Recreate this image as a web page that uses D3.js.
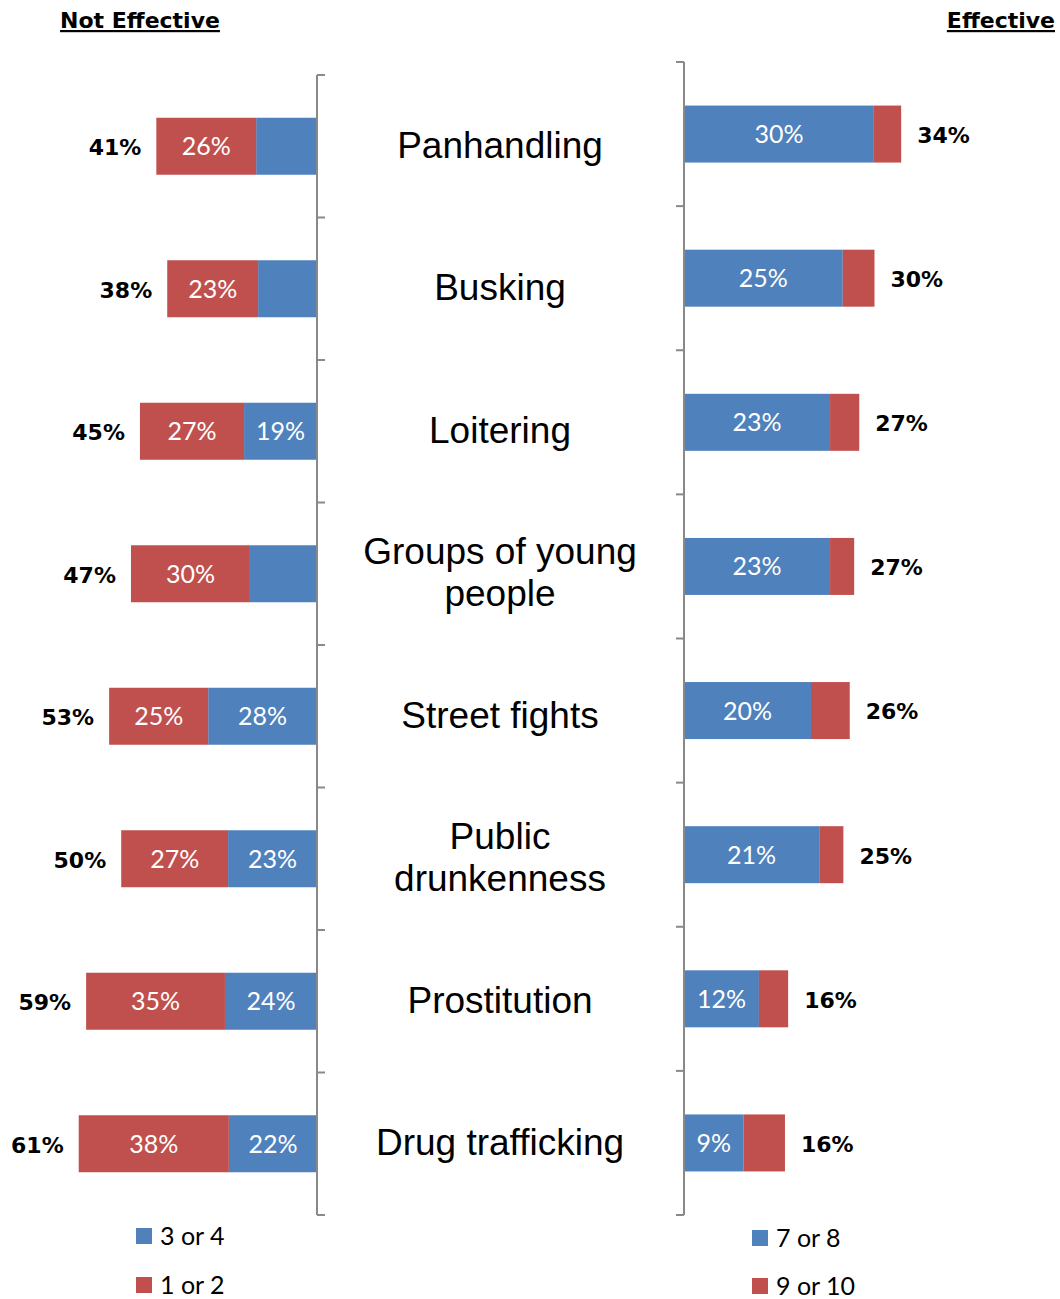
<!DOCTYPE html>
<html><head><meta charset="utf-8">
<script src="https://cdn.jsdelivr.net/npm/d3@7"></script>
<style>body{margin:0;background:#fff}svg{display:block}</style>
</head><body>
<svg id="c" width="1060" height="1299"></svg>
<script>
const categories = [["Panhandling"],["Busking"],["Loitering"],["Groups of young","people"],["Street fights"],["Public","drunkenness"],["Prostitution"],["Drug trafficking"]];
// Not effective
const score34 = [15.6,15.1,18.7,17.2,27.9,22.8,23.6,22.6];
const score34Labels = ["","","19%","","28%","23%","24%","22%"];
const score12 = [25.6,23.3,26.7,30.5,25.4,27.4,35.6,38.5];
const score12Labels = ["26%","23%","27%","30%","25%","27%","35%","38%"];
const notEffTotals = ["41%","38%","45%","47%","53%","50%","59%","61%"];
// Effective
const score78 = [29.9,25.0,23.0,23.0,20.0,21.3,11.8,9.4];
const score78Labels = ["30%","25%","23%","23%","20%","21%","12%","9%"];
const score910 = [4.3,5.0,4.6,3.8,6.1,3.8,4.6,6.5];
const effTotals = ["34%","30%","27%","27%","26%","25%","16%","16%"];

const BLUE="#4f81bd", RED="#c0504d", AXIS="#898989";
const svg = d3.select("#c");
const names = categories.map(c=>c.join(" "));

const xL = d3.scaleLinear().domain([0,70]).range([317,317-273]);
const xR = d3.scaleLinear().domain([0,50]).range([684,684+317.5]);
const yLb = d3.scaleBand().domain(names).range([75,1215]);
const yRb = d3.scaleBand().domain(names).range([62,1215]);

function drawAxis(x, y0, y1, band, dir){
  const g = svg.append("g");
  g.append("line").attr("x1",x).attr("x2",x).attr("y1",y0).attr("y2",y1).attr("stroke",AXIS).attr("stroke-width",2);
  const ticks = names.map(n=>band(n)).concat([y1]);
  g.selectAll("line.t").data(ticks).join("line").attr("class","t")
    .attr("x1",x).attr("x2",x+dir*8).attr("y1",d=>d).attr("y2",d=>d).attr("stroke",AXIS).attr("stroke-width",2);
}

const bh = 57;
const LBL = {ff:"Lato, sans-serif", fs:25};
const TOT = {ff:"DejaVu Sans, sans-serif", fs:22};
// left bars
const gl = svg.append("g");
names.forEach((n,i)=>{
  const cy = yLb(n)+yLb.bandwidth()/2;
  const y = cy-bh/2;
  const bEnd = xL(score34[i]);
  const rEnd = xL(score34[i]+score12[i]);
  gl.append("rect").attr("x",bEnd).attr("y",y).attr("width",xL(0)-bEnd).attr("height",bh).attr("fill",BLUE);
  gl.append("rect").attr("x",rEnd).attr("y",y).attr("width",bEnd-rEnd).attr("height",bh).attr("fill",RED);
  if(score34Labels[i]) gl.append("text").attr("x",(bEnd+xL(0))/2).attr("y",cy).attr("dy","0.36em").attr("text-anchor","middle")
    .attr("fill","#fff").attr("font-family",LBL.ff).attr("font-size",LBL.fs).text(score34Labels[i]);
  gl.append("text").attr("x",(rEnd+bEnd)/2).attr("y",cy).attr("dy","0.36em").attr("text-anchor","middle")
    .attr("fill","#fff").attr("font-family",LBL.ff).attr("font-size",LBL.fs).text(score12Labels[i]);
  gl.append("text").attr("x",rEnd-15).attr("y",cy+1).attr("dy","0.36em").attr("text-anchor","end")
    .attr("fill","#000").attr("font-family",TOT.ff).attr("font-weight","bold").attr("font-size",TOT.fs).text(notEffTotals[i]);
});
// right bars
const gr = svg.append("g");
names.forEach((n,i)=>{
  const cy = yRb(n)+yRb.bandwidth()/2;
  const y = cy-bh/2;
  const bEnd = xR(score78[i]);
  const rEnd = xR(score78[i]+score910[i]);
  gr.append("rect").attr("x",xR(0)).attr("y",y).attr("width",bEnd-xR(0)).attr("height",bh).attr("fill",BLUE);
  gr.append("rect").attr("x",bEnd).attr("y",y).attr("width",rEnd-bEnd).attr("height",bh).attr("fill",RED);
  gr.append("text").attr("x",(bEnd+xR(0))/2).attr("y",cy).attr("dy","0.36em").attr("text-anchor","middle")
    .attr("fill","#fff").attr("font-family",LBL.ff).attr("font-size",LBL.fs).text(score78Labels[i]);
  gr.append("text").attr("x",rEnd+16).attr("y",cy+1).attr("dy","0.36em").attr("text-anchor","start")
    .attr("fill","#000").attr("font-family",TOT.ff).attr("font-weight","bold").attr("font-size",TOT.fs).text(effTotals[i]);
});

drawAxis(317,75,1215,yLb,1);
drawAxis(684,62,1215,yRb,-1);

// category labels
const gc = svg.append("g").attr("font-family","Liberation Sans, Arial, sans-serif").attr("font-size",37).attr("text-anchor","middle").attr("fill","#000");
categories.forEach((lines,i)=>{
  const cy = yLb(names[i])+yLb.bandwidth()/2;
  const lh = 42;
  lines.forEach((t,j)=>{
    gc.append("text").attr("x",500).attr("y",cy-2+(j-(lines.length-1)/2)*lh).attr("dy","0.36em").text(t);
  });
});

// titles
function title(txt,x,anchor){
  svg.append("text").attr("x",x).attr("y",28).attr("text-anchor",anchor).attr("font-family","DejaVu Sans, sans-serif")
    .attr("font-weight","bold").attr("font-size",22).attr("text-decoration","underline").attr("fill","#000").text(txt);
}
title("Not Effective",140,"middle");
title("Effective",1055,"end");

// legends
function legend(items,x,ys){
  items.forEach((it,i)=>{
    svg.append("rect").attr("x",x).attr("y",ys[i]-8).attr("width",16).attr("height",16).attr("fill",it.c);
    svg.append("text").attr("x",x+24).attr("y",ys[i]).attr("dy","0.34em").attr("font-family","Lato, sans-serif").attr("font-size",25).attr("fill","#000").text(it.t);
  });
}
legend([{t:"3 or 4",c:BLUE},{t:"1 or 2",c:RED}],136,[1236,1285]);
legend([{t:"7 or 8",c:BLUE},{t:"9 or 10",c:RED}],752,[1238,1286]);
</script>
</body></html>
